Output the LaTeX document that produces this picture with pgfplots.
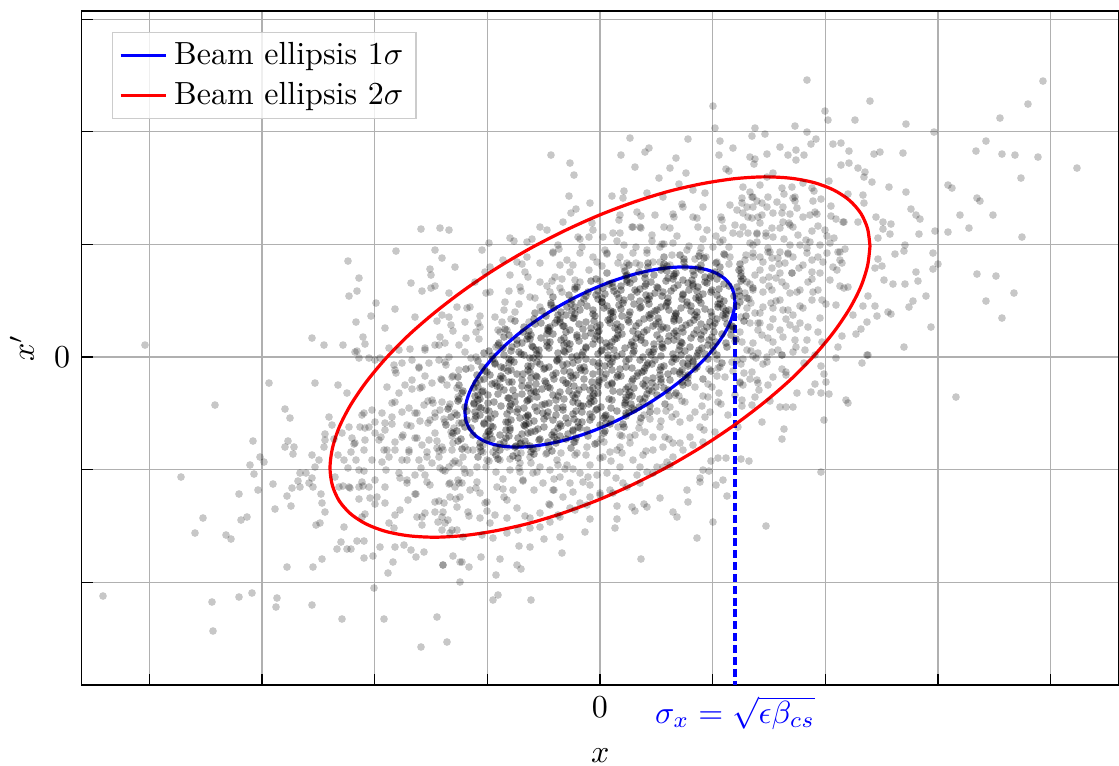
\documentclass[border=0pt]{standalone}
\usepackage{pgfplots}
\pgfplotsset{compat=1.18}
\definecolor{gridgray}{RGB}{176,176,176}
\definecolor{legframe}{RGB}{204,204,204}
\begin{document}
\begin{tikzpicture}
\begin{axis}[
  width=324.2pt, height=210.6pt, scale only axis,
  xmin=-518.5, xmax=519, ymin=-328, ymax=346,
  xtick={-450.8,-338.1,-225.4,-112.7,0,112.7,225.4,338.1,450.8},
  xticklabels={,,,,0,,,,},
  ytick={-225.2,-112.6,0,112.6,225.2,337.8},
  yticklabels={,,0,,,},
  extra x ticks={135},
  extra x tick labels={$\sigma_x=\sqrt{\epsilon\beta_{cs}}$},
  extra x tick style={grid=none, major tick length=0pt, tick label style={text=blue}},
  tick align=inside, xtick pos=bottom, ytick pos=left,
  major tick length=3.5pt,
  tick style={black, line width=0.4pt},
  axis line style={black, line width=0.4pt},
  grid=major, grid style={gridgray, line width=0.4pt},
  xlabel={$x$}, ylabel={$x'$},
  xlabel style={at={(axis description cs:0.5,0)}, anchor=north, yshift=-16.4pt},
  ylabel style={at={(axis description cs:-0.0574,0.5)}, anchor=center, rotate=0},
  legend style={at={(0.0294,0.969)}, anchor=north west, draw=legframe, fill=white, fill opacity=0.8, text opacity=1, inner xsep=2pt, inner ysep=1pt, row sep=0pt},
  legend cell align=left,
  legend image code/.code={\draw[#1] (0cm,0cm) -- (0.5cm,0cm);},
]
% outer / individually read points
\addplot[only marks, mark=*, mark size=1.2pt, mark options={fill=black, fill opacity=0.22, draw opacity=0, line width=0pt}, forget plot] coordinates {
(-455,12) (-179,128) (-160,129) (-151,127) (-204,106) (-165,107) (-158,99) (-252,96) (-241,79) (-170,88) (-169,82) (-145,90) (-189,74) (-243,66) (-251,61) (-178,66) (-169,69) (-165,71) (-224,54) (-205,48) (-229,41) (-244,35) (-215,29) (-237,20) (-288,19) (-276,12) (-257,12) (-235,13) (-243,6) (-151,64) (-158,42) (-151,40) (-149,32) (-185,40) (-160,20) (-155,14) (-165,12) (-175,7) (-190,8) (-201,7) (-211,9) (-143,50) (-141,12)
(-497,-239) (-385,-48) (-419,-120) (-397,-161) (-405,-176) (-374,-178) (-369,-182) (-361,-137) (-359,-163) (-353,-160) (-350,-108) (-346,-117) (-347,-84) (-340,-100) (-336,-105) (-342,-133) (-331,-26) (-327,-127) (-325,-152) (-315,-52) (-310,-61) (-312,-84) (-315,-90) (-306,-90) (-307,-97) (-313,-139) (-309,-149) (-308,-131) (-300,-116) (-302,-124) (-300,-130) (-294,-116) (-288,-121) (-291,-126) (-287,-130) (-285,-26) (-288,-98) (-285,-110) (-281,-103) (-279,-137) (-278,-146) (-275,-155) (-284,-168) (-280,-166) (-276,-90) (-275,-83) (-275,-77) (-271,-60) (-268,-68) (-266,-82) (-262,-28) (-253,-36) (-262,-98) (-256,-103) (-252,-111) (-257,-129) (-250,-131) (-256,-170) (-259,-185) (-263,-192) (-253,-192) (-249,-192) (-243,-184) (-236,-184) (-236,-201) (-227,-199) (-220,-190) (-278,-202) (-287,-210) (-313,-210) (-388,-245) (-387,-274) (-361,-240) (-348,-236) (-323,-241) (-324,-250) (-288,-248) (-258,-262) (-226,-231) (-216,-262) (-163,-260) (-153,-285) (-179,-290) (-157,-208) (-147,-199) (-140,-225) (-140,-205) (-207,-205) (-212,-216) (-205,-190) (-196,-188) (-189,-193) (-184,-200) (-176,-195) (-245,5) (-241,-1) (-231,-1) (-225,-3) (-220,-1)
(-241,-142) (-230,-141) (-225,-147) (-235,-157) (-238,-160) (-223,-140) (-215,-130) (-225,-123) (-231,-130) (-241,-130) (-251,-130) (-241,-113) (-244,-103) (-249,-95) (-236,-93) (-228,-103) (-218,-105) (-211,-100) (-205,-93) (-198,-103) (-201,-116) (-193,-123) (-185,-118) (-175,-118) (-170,-128) (-185,-137) (-192,-143) (-200,-153) (-206,-171) (-211,-166) (-183,-160) (-178,-160) (-178,-168) (-165,-155) (-158,-160) (-155,-166) (-148,-173) (-165,-145) (-156,-146) (-150,-140) (-145,-130) (-141,-126) (-261,-130) (-265,-120) (-231,-70) (-225,-65) (-215,-73) (-221,-83) (-216,-93) (-205,-85) (-198,-80) (-191,-93) (-185,-81) (-178,-88) (-171,-83) (-165,-76) (-158,-90) (-148,-93) (-141,-106) (-151,-110) (-161,-100) (-168,-106) (-181,-103) (-193,-68) (-185,-56) (-176,-48) (-168,-43) (-158,-45) (-151,-50) (-145,-56) (-141,-66) (-198,-55) (-208,-60) (-208,-46) (-201,-36) (-195,-28) (-188,-23) (-178,-30) (-168,-26) (-158,-23) (-148,-20) (-141,-13) (-205,-13) (-198,-6) (-188,-3) (-181,-10) (-171,-6) (-161,-3) (-151,0) (-206,-8) (-218,-56) (-228,-53) (-238,-58) (-240,-70) (-251,-70) (-258,-76) (-248,-81) (-245,-86) (-235,-83) (-225,-76) (-215,-66) (-165,-60) (-155,-65) (-146,-71) (-160,-53) (-170,-63)
(207,277) (443,276) (428,253) (400,239) (270,256) (225,246) (228,237) (255,237) (306,233) (334,225) (386,216) (376,206) (402,203) (415,202) (438,200) (477,189) (421,179) (348,172) (352,169) (377,159) (380,156) (360,142) (393,142) (369,129) (422,120) (348,125) (335,126) (319,123) (320,138) (316,142) (311,148) (306,165) (289,170) (303,204) (280,205) (274,203) (258,189) (265,185) (264,180) (272,175) (249,194) (241,192) (249,206) (241,214) (233,213) (216,218) (211,213) (207,225) (195,231) (204,202) (196,207) (196,197) (188,202) (180,210) (167,203) (165,223) (155,229) (152,221) (150,200) (155,198) (154,193) (229,176) (248,163) (263,162) (264,154) (276,140) (283,135) (283,128) (291,133) (290,123) (278,119) (258,135) (243,135) (295,103) (305,112) (304,106) (333,104) (338,93) (333,88) (316,85) (318,76) (305,73) (293,73) (275,89) (282,91) (278,98) (284,77) (377,83) (396,81) (414,64) (386,56) (402,39) (331,30) (326,61) (313,56) (309,50) (288,45) (291,43) (277,41) (275,51) (268,61) (263,51) (267,35) (261,28) (256,23) (304,10) (267,2) (253,42) (248,70) (240,71) (236,52) (242,21) (238,10)
(231,151) (231,141) (244,135) (227,121) (225,127) (221,158) (214,166) (213,156) (215,145) (210,142) (218,131) (212,126) (203,140) (197,149) (193,159) (190,143) (189,134) (193,130) (198,122) (182,169) (177,155) (168,160) (167,150) (162,154) (153,160) (147,150) (143,144) (152,139) (160,134) (172,129) (180,129) (173,120) (166,124) (157,115) (148,124) (153,112) (153,100) (145,97) (163,95) (172,99) (180,105) (190,112) (200,112) (210,115) (220,112) (230,114) (238,105) (240,97) (237,87) (230,77) (220,84) (212,85) (203,92) (193,100) (185,94) (180,84) (172,89) (163,77) (155,82) (147,75) (145,64) (153,67) (163,65) (172,67) (180,57) (190,64) (200,67) (208,75) (218,67) (222,57) (212,57) (203,49) (193,42) (183,47) (173,49) (163,50) (155,44) (147,49) (150,34) (160,34) (170,30) (180,27) (190,32) (200,34) (208,30) (218,25) (222,15) (207,17) (195,17) (183,20) (173,15) (162,22) (153,14) (147,7) (158,4) (172,5) (182,2) (193,5) (205,7) (215,2) (167,180) (173,184) (143,170) (150,165) (160,172) (192,170) (203,174) (212,169) (195,160) (183,150) (173,144) (182,144) (188,104) (182,75) (192,84) (178,99) (168,109) (207,104) (212,97) (227,104) (223,95) (233,90) (240,105)
(356,-40) (166,-169) (221,-115) (224,-63) (149,-104) (141,-102) (162,-65) (184,-72) (182,-82) (180,-50) (186,-50) (193,-50) (197,-36) (211,-35) (215,-27) (221,-36) (229,-37) (226,-25) (224,-17) (221,-9) (204,-6) (236,-1) (262,-6) (268,2) (246,-43) (248,-46) (152,-48) (155,-40) (159,-33) (170,-44) (173,-20) (168,-28) (157,-23) (150,-22) (152,-15) (144,-16) (143,-28) (142,-43) (182,-12) (186,-18) (163,-7) (153,1) (182,2) (167,0) (143,-2)
(113,251) (115,229) (120,216) (133,209) (119,202) (30,219) (88,218) (49,209) (45,205) (21,202) (-49,202) (-30,194) (-26,182) (76,199) (35,190) (70,189) (86,184) (59,179) (126,188) (129,186) (79,173) (24,166) (12,161) (-31,161) (-24,148) (-29,144) (-10,154) (-8,134) (-7,127) (-60,130) (-53,127) (-90,119) (-86,116) (-73,115) (-68,118) (-111,114) (-118,107) (-22,120) (-11,120) (3,120) (13,124) (20,124) (33,130) (40,130) (52,122) (64,130) (73,143) (83,150) (55,142) (37,145) (32,130) (20,142) (23,159) (47,164) (63,160) (93,167) (103,150) (97,139) (107,127) (122,137) (130,152) (142,154) (152,160) (148,140) (143,130) (133,124) (123,117) (113,110) (100,104) (87,107) (73,114) (60,110) (47,107) (33,104) (20,100) (7,104) (-7,100) (-20,104) (-33,97) (-47,104) (-60,94) (-73,100) (-83,95) (-97,97) (-110,90) (-42,112) (-37,135) (-47,105) (-3,95) (27,94) (40,92) (53,95) (70,92) (117,95) (130,100) (153,104) (157,124) (158,140) (153,150)
(-107,-243) (-102,-238) (-69,-243) (-104,-218) (-83,-208) (-79,-212) (-100,-202) (-119,-200) (-131,-210) (-138,-205) (-157,-208) (-81,-189) (-70,-190) (-56,-182) (-40,-180) (-38,-196) (-15,-175) (41,-202) (97,-181) (113,-165) (77,-160) (73,-155) (127,-139) (123,-123) (116,-128) (100,-125) (87,-133) (88,-145) (60,-141) (47,-150) (44,-147) (35,-154) (32,-150) (17,-162) (15,-171) (-10,-162) (17,-149) (126,-101) (118,-101) (111,-104) (109,-114) (103,-113) (100,-121) (70,-108) (63,-110) (53,-116) (40,-126) (27,-130) (13,-136) (0,-138) (-13,-148) (-25,-153) (-40,-160) (-50,-165) (-60,-170) (-70,-171) (-82,-173) (-93,-176) (-118,-178) (-137,-180) (-150,-176) (-158,-173) (-107,-181)
(-143,-173) (-152,-163) (-157,-155) (-143,-150) (-132,-155) (-120,-161) (-110,-166) (-105,-158) (-93,-161) (-83,-151) (-70,-161) (-60,-156) (-50,-148) (-42,-158) (-30,-151) (-20,-146) (-10,-140) (0,-136) (10,-133) (23,-126) (37,-118) (47,-115) (57,-110) (67,-105) (73,-100) (83,-93) (93,-88) (103,-85) (-140,-140) (-130,-133) (-120,-136) (-113,-145) (-103,-130) (-93,-143) (-87,-133) (-77,-123) (-67,-116) (-57,-126) (-47,-133) (-37,-140) (-27,-135) (-17,-125) (-3,-118) (7,-116) (20,-110) (33,-103) (43,-98) (53,-93) (63,-90) (73,-86) (-150,-126) (-142,-123) (-130,-116) (-123,-110) (-113,-103) (-100,-103) (-90,-113) (-80,-106) (-70,-100) (-60,-110) (-50,-113) (-40,-120) (-30,-126) (-20,-116) (-10,-108) (0,-101) (10,-95) (20,-90) (30,-86) (-157,-113) (-147,-106) (-137,-100) (-127,-93) (-117,-88) (-107,-95) (-93,-90) (-83,-96) (-73,-88) (-63,-91) (-53,-96) (-43,-103) (-33,-108) (-23,-96) (-13,-90) (-3,-86) (-157,-93) (-147,-86)
(112,-30) (125,-20) (118,-45) (135,-38) (105,-60) (128,-58) (115,-75) (138,-70) (132,-5) (120,-10) (108,-40) (140,-25)
(-120,30) (-105,40) (-130,50) (-95,55) (-110,65) (-80,70) (-125,75) (-90,82) (-70,60) (-60,75) (-135,35) (-115,85) (-100,25) (-85,45) (-75,85) (-45,80) (-50,65) (-30,85) (-20,75)
(70,-50) (85,-45) (95,-55) (80,-65) (60,-70) (100,-70) (90,-80) (65,-80) (45,-75) (40,-65) (110,-55) (75,-38) (95,-30) (50,-62) (30,-80) (20,-78)
(169,71) (171,54) (160,44) (158,34) (142,15) (137,-3) (118,-11) (108,-27) (82,-44) (66,-54) (39,-71) (22,-79) (4,-85) (-25,-98) (-42,-108) (-69,-106) (-81,-111) (-104,-115) (-114,-110) (-136,-112) (-145,-104) (-161,-94) (-163,-91) (-163,-84) (-172,-66) (-165,-56) (-167,-46) (-153,-28) (-147,-19) (-129,-1) (-121,18) (-102,27) (-89,38) (-65,59) (-40,69) (-25,77) (2,91) (18,94) (47,104) (64,113) (89,111) (101,109) (120,115) (129,110) (146,102) (160,100) (160,87) (169,80)
(192,84) (197,65) (188,47) (186,38) (168,19) (156,-1) (133,-14) (119,-36) (102,-49) (72,-60) (53,-80) (22,-96) (3,-100) (-27,-112) (-46,-122) (-77,-124) (-97,-132) (-124,-131) (-138,-126) (-151,-127) (-173,-125) (-179,-111) (-193,-103) (-191,-95) (-197,-78) (-189,-69) (-191,-51) (-180,-31) (-175,-19) (-155,-5) (-134,19) (-122,34) (-96,47) (-79,66) (-48,76) (-27,92) (5,107) (24,112) (52,116) (70,129) (98,130) (123,129) (135,132) (157,123) (166,121) (184,118) (188,103) (199,89)
(186,71) (176,56) (173,38) (158,27) (151,6) (141,-7) (117,-19) (103,-39) (76,-57) (61,-64) (35,-78) (17,-93) (-14,-98) (-35,-112) (-63,-115) (-80,-115) (-97,-122) (-123,-125) (-135,-116) (-155,-114) (-160,-111) (-173,-100) (-173,-95) (-183,-81) (-180,-64) (-183,-56) (-172,-44) (-159,-22) (-154,-8) (-135,5) (-124,25) (-98,35) (-81,53) (-53,71) (-38,78) (-11,87) (7,103) (36,110) (62,113) (77,121) (103,118) (116,121) (140,123) (150,114) (168,105) (170,105) (179,93) (176,79)
(212,78) (213,65) (200,51) (196,28) (178,7) (167,-5) (140,-26) (121,-47) (90,-61) (69,-82) (46,-94) (11,-104) (-12,-120) (-46,-133) (-66,-133) (-96,-140) (-115,-146) (-144,-142) (-161,-144) (-184,-137) (-193,-126) (-200,-121) (-214,-113) (-213,-93) (-219,-80) (-208,-67) (-205,-45) (-188,-32) (-181,-11) (-161,12) (-147,26) (-120,41) (-91,66) (-72,80) (-40,92) (-18,110) (17,116) (41,129) (74,140) (93,140) (121,140) (137,147) (162,142) (183,135) (190,132) (206,117) (207,109) (218,100)
(149,58) (151,54) (141,40) (140,25) (135,16) (117,-2) (109,-12) (88,-21) (79,-39) (57,-54) (44,-58) (18,-70) (1,-82) (-25,-85) (-39,-96) (-54,-97) (-79,-96) (-90,-102) (-111,-104) (-117,-95) (-132,-93) (-135,-90) (-148,-79) (-149,-75) (-156,-62) (-150,-47) (-142,-40) (-143,-31) (-129,-11) (-124,0) (-104,10) (-93,27) (-71,35) (-60,50) (-38,65) (-25,70) (0,76) (24,90) (36,94) (60,95) (72,102) (95,98) (106,100) (125,102) (129,93) (141,88) (141,84) (150,73)
(242,94) (244,69) (226,53) (220,39) (196,10) (186,-15) (158,-26) (142,-49) (104,-73) (80,-86) (40,-110) (16,-121) (-10,-128) (-51,-147) (-75,-159) (-113,-154) (-131,-159) (-162,-165) (-175,-156) (-205,-158) (-215,-146) (-237,-129) (-238,-125) (-236,-114) (-246,-87) (-235,-71) (-236,-56) (-213,-30) (-204,-16) (-175,9) (-163,36) (-133,49) (-114,64) (-78,93) (-41,108) (-20,118) (19,137) (41,141) (82,153) (105,164) (142,159) (157,156) (184,163) (195,156) (217,143) (236,138) (234,119) (245,108)
};
% dense core
\addplot[only marks, mark=*, mark size=1.2pt, mark options={fill=black, fill opacity=0.35, draw opacity=0, line width=0pt}, forget plot] coordinates {
(64,100) (80,102) (84,98) (99,101) (104,99) (124,103)
(29,92) (48,94) (48,90) (64,93) (67,91) (84,95) (98,89) (101,92) (116,94) (120,90) (140,93)
(7,84) (25,86) (27,82) (39,85) (45,83) (61,87) (74,81) (76,84) (93,86) (94,82) (115,85) (120,83) (139,87) (141,81)
(-9,76) (-4,78) (12,74) (27,77) (27,75) (45,79) (46,73) (66,76) (73,78) (88,74) (92,77) (105,75) (110,79) (124,73) (141,76) (143,78)
(-25,68) (-23,70) (-2,66) (3,69) (21,67) (21,71) (37,65) (40,68) (57,70) (71,66) (74,69) (89,67) (93,71) (111,65) (119,68) (137,70) (139,66) (153,69)
(-47,60) (-31,62) (-16,58) (-14,61) (2,59) (5,63) (24,57) (31,60) (46,62) (49,58) (62,61) (68,59) (83,63) (99,57) (99,60) (117,62) (120,58) (140,61) (147,59)
(-49,52) (-49,54) (-33,50) (-29,53) (-13,51) (2,55) (4,49) (19,52) (23,54) (41,50) (49,53) (66,51) (68,55) (81,49) (87,52) (101,54) (118,50) (120,53) (137,51) (140,55)
(-65,44) (-58,46) (-42,42) (-39,45) (-25,43) (-20,47) (-5,41) (11,44) (11,46) (29,42) (30,45) (51,43) (57,47) (75,41) (76,44) (91,46) (95,42) (111,45) (126,43) (129,47) (146,41)
(-85,36) (-66,38) (-59,34) (-43,37) (-40,35) (-27,39) (-21,33) (-6,36) (10,38) (10,34) (28,37) (29,35) (50,39) (56,33) (74,36) (74,38) (90,34) (94,37) (110,35) (125,39) (127,33) (144,36)
(-95,28) (-76,30) (-71,26) (-52,29) (-52,27) (-37,31) (-34,25) (-17,28) (-3,30) (-1,26) (15,29) (18,27) (36,31) (44,25) (61,28) (63,30) (76,26) (82,29) (97,27) (113,31) (114,25) (131,28) (133,30)
(-96,20) (-91,22) (-73,18) (-72,21) (-59,19) (-53,23) (-39,17) (-23,20) (-23,22) (-5,18) (-3,21) (17,19) (22,23) (41,17) (41,20) (57,22) (60,18) (77,21) (91,19) (94,23) (109,17) (112,20) (131,22) (136,18)
(-102,12) (-101,14) (-88,10) (-83,13) (-68,11) (-53,15) (-51,9) (-36,12) (-33,14) (-14,10) (-7,13) (10,11) (12,15) (25,9) (31,12) (45,14) (62,10) (62,13) (80,11) (81,15) (102,9) (108,12) (126,14) (127,10)
(-116,4) (-111,6) (-96,2) (-81,5) (-79,3) (-64,7) (-61,1) (-42,4) (-36,6) (-18,2) (-17,5) (-2,3) (2,7) (17,1) (33,4) (34,6) (51,2) (53,5) (73,3) (79,7) (97,1) (98,4) (113,6) (117,2)
(-122,-4) (-107,-2) (-105,-6) (-89,-3) (-86,-5) (-67,-1) (-60,-7) (-43,-4) (-41,-2) (-27,-6) (-22,-3) (-7,-5) (8,-1) (10,-7) (26,-4) (29,-2) (48,-6) (55,-3) (72,-5) (74,-1) (88,-7) (93,-4) (108,-2) (122,-6)
(-134,-12) (-118,-10) (-115,-14) (-96,-11) (-89,-13) (-72,-9) (-70,-15) (-56,-12) (-51,-10) (-36,-14) (-20,-11) (-19,-13) (-2,-9) (0,-15) (20,-12) (26,-10) (44,-14) (45,-11) (60,-13) (64,-9) (80,-15) (95,-12) (97,-10) (111,-14)
(-142,-20) (-123,-18) (-116,-22) (-99,-19) (-97,-21) (-83,-17) (-78,-23) (-63,-20) (-47,-18) (-46,-22) (-29,-19) (-27,-21) (-7,-17) (-1,-23) (17,-20) (18,-18) (33,-22) (37,-19) (53,-21) (68,-17) (70,-23) (86,-20) (88,-18) (103,-22)
(-141,-28) (-124,-26) (-122,-30) (-108,-27) (-103,-29) (-88,-25) (-72,-31) (-71,-28) (-54,-26) (-52,-30) (-32,-27) (-26,-29) (-8,-25) (-7,-31) (8,-28) (12,-26) (28,-30) (43,-27) (45,-29) (61,-25) (64,-31) (83,-28) (88,-26)
(-138,-36) (-137,-34) (-122,-38) (-118,-35) (-102,-37) (-87,-33) (-85,-39) (-69,-36) (-66,-34) (-47,-38) (-40,-35) (-23,-37) (-21,-33) (-7,-39) (-2,-36) (13,-34) (29,-38) (30,-35) (47,-37) (49,-33) (69,-39) (76,-36)
(-142,-44) (-141,-42) (-126,-46) (-122,-43) (-106,-45) (-91,-41) (-89,-47) (-73,-44) (-70,-42) (-51,-46) (-44,-43) (-27,-45) (-25,-41) (-11,-47) (-6,-44) (9,-42) (25,-46) (26,-43) (43,-45) (45,-41) (65,-47)
(-152,-52) (-135,-50) (-133,-54) (-119,-51) (-114,-53) (-99,-49) (-83,-55) (-82,-52) (-65,-50) (-63,-54) (-43,-51) (-37,-53) (-19,-49) (-18,-55) (-3,-52) (1,-50) (17,-54) (32,-51) (34,-53) (50,-49) (50,-55)
(-149,-60) (-143,-58) (-125,-62) (-124,-59) (-109,-61) (-105,-57) (-89,-63) (-74,-60) (-72,-58) (-56,-62) (-53,-59) (-34,-61) (-27,-57) (-10,-63) (-8,-60) (6,-58) (11,-62) (26,-59) (41,-61)
(-154,-68) (-138,-66) (-135,-70) (-116,-67) (-109,-69) (-92,-65) (-90,-71) (-76,-68) (-71,-66) (-56,-70) (-40,-67) (-39,-69) (-22,-65) (-20,-71) (0,-68) (6,-66) (24,-70) (23,-67)
(-147,-76) (-143,-74) (-127,-78) (-112,-75) (-110,-77) (-94,-73) (-91,-79) (-72,-76) (-65,-74) (-48,-78) (-46,-75) (-32,-77) (-27,-73) (-12,-79) (4,-76) (5,-74)
(-142,-84) (-139,-82) (-120,-86) (-113,-83) (-96,-85) (-94,-81) (-80,-87) (-75,-84) (-60,-82) (-44,-86) (-43,-83) (-26,-85) (-24,-81) (-5,-87)
(-138,-92) (-120,-90) (-119,-94) (-104,-91) (-100,-93) (-84,-89) (-69,-95) (-67,-92) (-51,-90) (-48,-94) (-29,-91)
(-122,-100) (-104,-98) (-102,-102) (-87,-99) (-82,-101) (-66,-97)
(63,89) (67,86) (85,90) (101,87)
(26,81) (34,78) (54,82) (68,79) (74,83) (83,77) (105,80) (111,81) (117,78)
(9,73) (13,70) (30,74) (45,71) (51,75) (58,69) (78,72) (93,73) (98,70) (107,74) (129,71)
(-12,65) (-4,62) (14,66) (17,63) (35,67) (50,61) (55,64) (63,65) (83,62) (97,66) (103,63) (112,67) (134,61)
(-28,57) (-19,54) (-2,58) (2,55) (19,59) (34,53) (40,56) (47,57) (67,54) (82,58) (87,55) (96,59) (118,53) (124,56)
(-46,49) (-28,46) (-25,50) (-7,47) (7,51) (13,45) (21,48) (40,49) (55,46) (61,50) (69,47) (91,51) (97,45) (105,48) (123,49) (126,46)
(-54,41) (-40,38) (-34,42) (-26,39) (-7,43) (8,37) (13,40) (22,41) (44,38) (49,42) (58,39) (76,43) (79,37) (97,40) (112,41) (117,38) (123,42)
(-65,33) (-50,30) (-45,34) (-36,31) (-14,35) (-9,29) (0,32) (17,33) (21,30) (39,34) (53,31) (59,35) (67,29) (86,32) (101,33) (107,30) (115,34) (132,31)
(-77,25) (-69,22) (-51,26) (-47,23) (-30,27) (-15,21) (-9,24) (-2,25) (18,22) (33,26) (38,23) (47,27) (69,21) (74,24) (83,25) (101,22) (104,26) (122,23)
(-83,17) (-78,14) (-70,18) (-50,15) (-36,19) (-30,13) (-21,16) (0,17) (6,14) (15,18) (32,15) (36,19) (54,13) (68,16) (74,17) (82,14) (101,18) (116,15)
(-97,9) (-89,6) (-67,10) (-61,7) (-53,11) (-35,5) (-31,8) (-14,9) (1,6) (7,10) (14,7) (34,11) (49,5) (54,8) (63,9) (85,6) (90,10) (99,7) (113,11)
(-108,1) (-91,-2) (-76,2) (-70,-1) (-63,3) (-43,-3) (-28,0) (-23,1) (-14,-2) (8,2) (13,-1) (22,3) (40,-3) (43,0) (61,1) (76,-2) (81,2) (89,-1) (105,3)
(-105,-7) (-99,-10) (-91,-6) (-69,-9) (-63,-5) (-55,-11) (-37,-8) (-33,-7) (-16,-10) (-1,-6) (5,-9) (12,-5) (32,-11) (47,-8) (52,-7) (61,-10) (83,-6) (88,-9) (93,-5)
(-113,-15) (-110,-18) (-92,-14) (-77,-17) (-72,-13) (-64,-19) (-44,-16) (-30,-15) (-24,-18) (-15,-14) (6,-17) (12,-13) (21,-19) (38,-16) (42,-15) (60,-18) (74,-14) (80,-17) (82,-13)
(-120,-23) (-105,-26) (-100,-22) (-91,-25) (-69,-21) (-64,-27) (-55,-24) (-37,-23) (-34,-26) (-16,-22) (-1,-25) (4,-21) (12,-27) (32,-24) (46,-23) (52,-26) (61,-22) (82,-25)
(-126,-31) (-117,-34) (-100,-30) (-96,-33) (-78,-29) (-64,-35) (-58,-32) (-50,-31) (-31,-34) (-16,-30) (-10,-33) (-2,-29) (20,-35) (26,-32) (34,-31) (52,-34) (56,-30) (68,-33)
(-125,-39) (-120,-42) (-112,-38) (-92,-41) (-78,-37) (-72,-43) (-63,-40) (-42,-39) (-36,-42) (-27,-38) (-10,-41) (-6,-37) (12,-43) (26,-40) (32,-39) (40,-42) (57,-38)
(-126,-47) (-121,-50) (-112,-46) (-90,-49) (-85,-45) (-76,-51) (-58,-48) (-55,-47) (-37,-50) (-22,-46) (-17,-49) (-9,-45) (11,-51) (25,-48) (31,-47) (39,-50)
(-125,-55) (-120,-58) (-111,-54) (-93,-57) (-90,-53) (-72,-59) (-57,-56) (-52,-55) (-44,-58) (-24,-54) (-10,-57) (-4,-53) (5,-59) (26,-56) (29,-55)
(-133,-63) (-116,-66) (-112,-62) (-94,-65) (-80,-61) (-74,-67) (-66,-64) (-47,-63) (-32,-66) (-26,-62) (-18,-65) (4,-61) (10,-67)
(-129,-71) (-111,-74) (-107,-70) (-90,-73) (-75,-69) (-69,-75) (-62,-72) (-42,-71) (-27,-74) (-22,-70) (-13,-73)
(-114,-79) (-108,-82) (-100,-78) (-82,-81) (-78,-77) (-61,-83) (-46,-80) (-40,-79) (-34,-82)
(-100,-87) (-85,-90) (-79,-86) (-70,-89) (-52,-85)
};
% sigma_x marker
\addplot[blue, line width=1pt, dash pattern=on 2.5pt off 1.2pt, forget plot] coordinates {(135,55.4) (135,-328)};
% 1 sigma ellipse
\addplot[blue, line width=1pt, smooth] coordinates {
(135,55.4) (133.8,45.7) (130.4,35.1) (124.7,24.0) (116.9,12.5) (107.1,0.7) (95.5,-11.1) (82.2,-22.6) (67.5,-33.8) (51.7,-44.4) (34.9,-54.3) (17.6,-63.2) (0,-71.1) (-17.6,-77.7) (-34.9,-83.0) (-51.7,-86.8) (-67.5,-89.2) (-82.2,-90.1) (-95.5,-89.4) (-107.1,-87.2) (-116.9,-83.5) (-124.7,-78.4) (-130.4,-71.9) (-133.8,-64.2) (-135,-55.4) (-133.8,-45.7) (-130.4,-35.1) (-124.7,-24.0) (-116.9,-12.5) (-107.1,-0.7) (-95.5,11.1) (-82.2,22.6) (-67.5,33.8) (-51.7,44.4) (-34.9,54.3) (-17.6,63.2) (0,71.1) (17.6,77.7) (34.9,83.0) (51.7,86.8) (67.5,89.2) (82.2,90.1) (95.5,89.4) (107.1,87.2) (116.9,83.5) (124.7,78.4) (130.4,71.9) (133.8,64.2) (135,55.4)
};
\addlegendentry{Beam ellipsis $1\sigma$}
% 2 sigma ellipse
\addplot[red, line width=1pt, smooth] coordinates {
(270,110.8) (267.6,91.4) (260.8,70.2) (249.4,48.0) (233.8,25.0) (214.2,1.4) (191,-22.2) (164.4,-45.2) (135,-67.6) (103.4,-88.8) (69.8,-108.6) (35.2,-126.4) (0,-142.2) (-35.2,-155.4) (-69.8,-166) (-103.4,-173.6) (-135,-178.4) (-164.4,-180.2) (-191,-178.8) (-214.2,-174.4) (-233.8,-167) (-249.4,-156.8) (-260.8,-143.8) (-267.6,-128.4) (-270,-110.8) (-267.6,-91.4) (-260.8,-70.2) (-249.4,-48) (-233.8,-25) (-214.2,-1.4) (-191,22.2) (-164.4,45.2) (-135,67.6) (-103.4,88.8) (-69.8,108.6) (-35.2,126.4) (0,142.2) (35.2,155.4) (69.8,166) (103.4,173.6) (135,178.4) (164.4,180.2) (191,178.8) (214.2,174.4) (233.8,167) (249.4,156.8) (260.8,143.8) (267.6,128.4) (270,110.8)
};
\addlegendentry{Beam ellipsis $2\sigma$}
\end{axis}
\pgfresetboundingbox
\useasboundingbox (-25.47pt,-25pt) rectangle (324.22pt,214.06pt);
\end{tikzpicture}
\end{document}
